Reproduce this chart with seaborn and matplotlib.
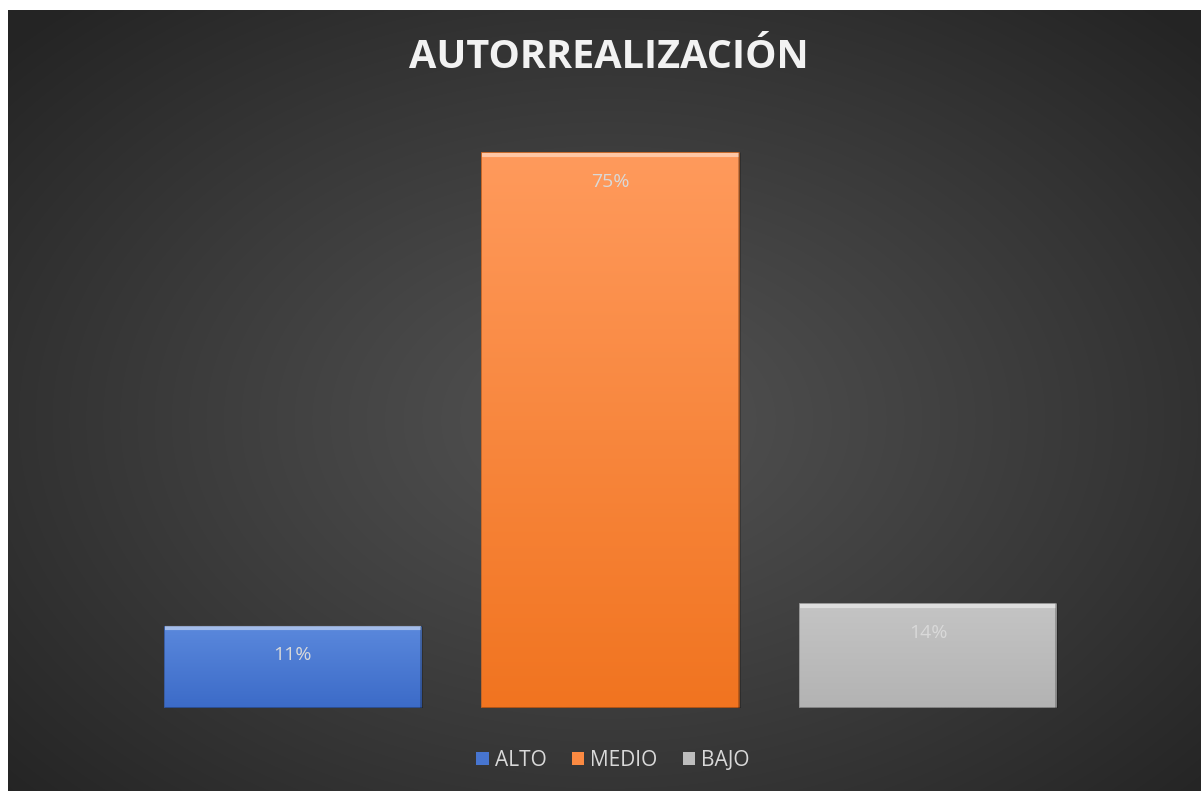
import numpy as np
import pandas as pd
import matplotlib
matplotlib.use("Agg")
import matplotlib.pyplot as plt
import matplotlib.colors as mcolors
from matplotlib.patches import Patch
import seaborn as sns

categories = ["ALTO", "MEDIO", "BAJO"]
values = [11, 75, 14]
labels = ["11%", "75%", "14%"]
colors = ["#4775d0", "#fb8a42", "#bdbdbd"]
tops = ["#5a88dc", "#ff9a5c", "#c4c4c4"]
bottoms = ["#3c6bc8", "#f17420", "#b3b3b3"]

sns.set_theme(style="white")
plt.rcParams["font.family"] = ["Open Sans", "DejaVu Sans"]

df = pd.DataFrame({"nivel": categories, "pct": values})

fig = plt.figure(figsize=(12.01, 7.91), dpi=100, facecolor="white")

# radial dark background
bg = fig.add_axes([8 / 1201, 0, 1193 / 1201, 781 / 791])
yy, xx = np.mgrid[0:781, 0:1193]
r = np.sqrt(((xx - 600) / 820) ** 2 + ((yy - 410) / 560) ** 2)
r = np.clip(r, 0, 1)
c0 = np.array(mcolors.to_rgb("#525252"))
c1 = np.array(mcolors.to_rgb("#242424"))
img = c0 + (c1 - c0) * r[..., None] ** 1.1
bg.imshow(img, aspect="auto", interpolation="bilinear")
bg.set_axis_off()

ax = fig.add_axes([134 / 1201, 83 / 791, 953 / 1201, 592 / 791])
ax.patch.set_alpha(0)
sns.barplot(data=df, x="nivel", y="pct", hue="nivel", palette=colors,
            width=0.806, legend=False, ax=ax, saturation=1)
ax.set_ylim(0, 80)
ax.set_xlim(-0.5, 2.5)

for i, p in enumerate(ax.patches):
    x0, w, h = p.get_x(), p.get_width(), p.get_height()
    grad = np.linspace(0, 1, 100)[:, None]
    ct = np.array(mcolors.to_rgb(tops[i]))
    cb = np.array(mcolors.to_rgb(bottoms[i]))
    gimg = ct + (cb - ct) * grad[..., None]
    gimg = np.repeat(gimg, 2, axis=1)
    im = ax.imshow(gimg, extent=[x0, x0 + w, 0, h], aspect="auto",
                   zorder=3, interpolation="bilinear")
    im.set_clip_path(p)
    p.set_edgecolor(mcolors.to_rgb(bottoms[i]) + (0.9,))
    p.set_linewidth(1.2)
    # bevel highlight at top
    ax.plot([x0, x0 + w], [h - 0.25, h - 0.25], color="white", alpha=0.45,
            lw=3, zorder=4, solid_capstyle="butt")
    ax.plot([x0 + w, x0 + w], [0, h], color="black", alpha=0.25, lw=2, zorder=4)
    ax.plot([x0, x0 + w], [0, 0], color="black", alpha=0.3, lw=2, zorder=4)
    ax.text(x0 + w / 2, h - 3.9, labels[i], ha="center", va="center",
            color="#d9d9d9", fontsize=14, zorder=5)

ax.set_xlabel("")
ax.set_ylabel("")
ax.set_xticks([])
ax.set_yticks([])
for s in ax.spines.values():
    s.set_visible(False)

fig.text(609 / 1201, 1 - 57 / 791, "AUTORREALIZACIÓN", ha="center", va="center",
         color="#f2f2f2", fontsize=28.5, fontweight="bold")

handles = [Patch(facecolor=c, edgecolor="none") for c in colors]
fig.legend(handles, categories, loc="center", bbox_to_anchor=(613 / 1201, 1 - 760 / 791),
           ncol=3, frameon=False, labelcolor="#d9d9d9", fontsize=15,
           handlelength=0.6, handleheight=0.6, handletextpad=0.3, columnspacing=1.2)

fig.savefig("out.png", dpi=100, facecolor="white")
